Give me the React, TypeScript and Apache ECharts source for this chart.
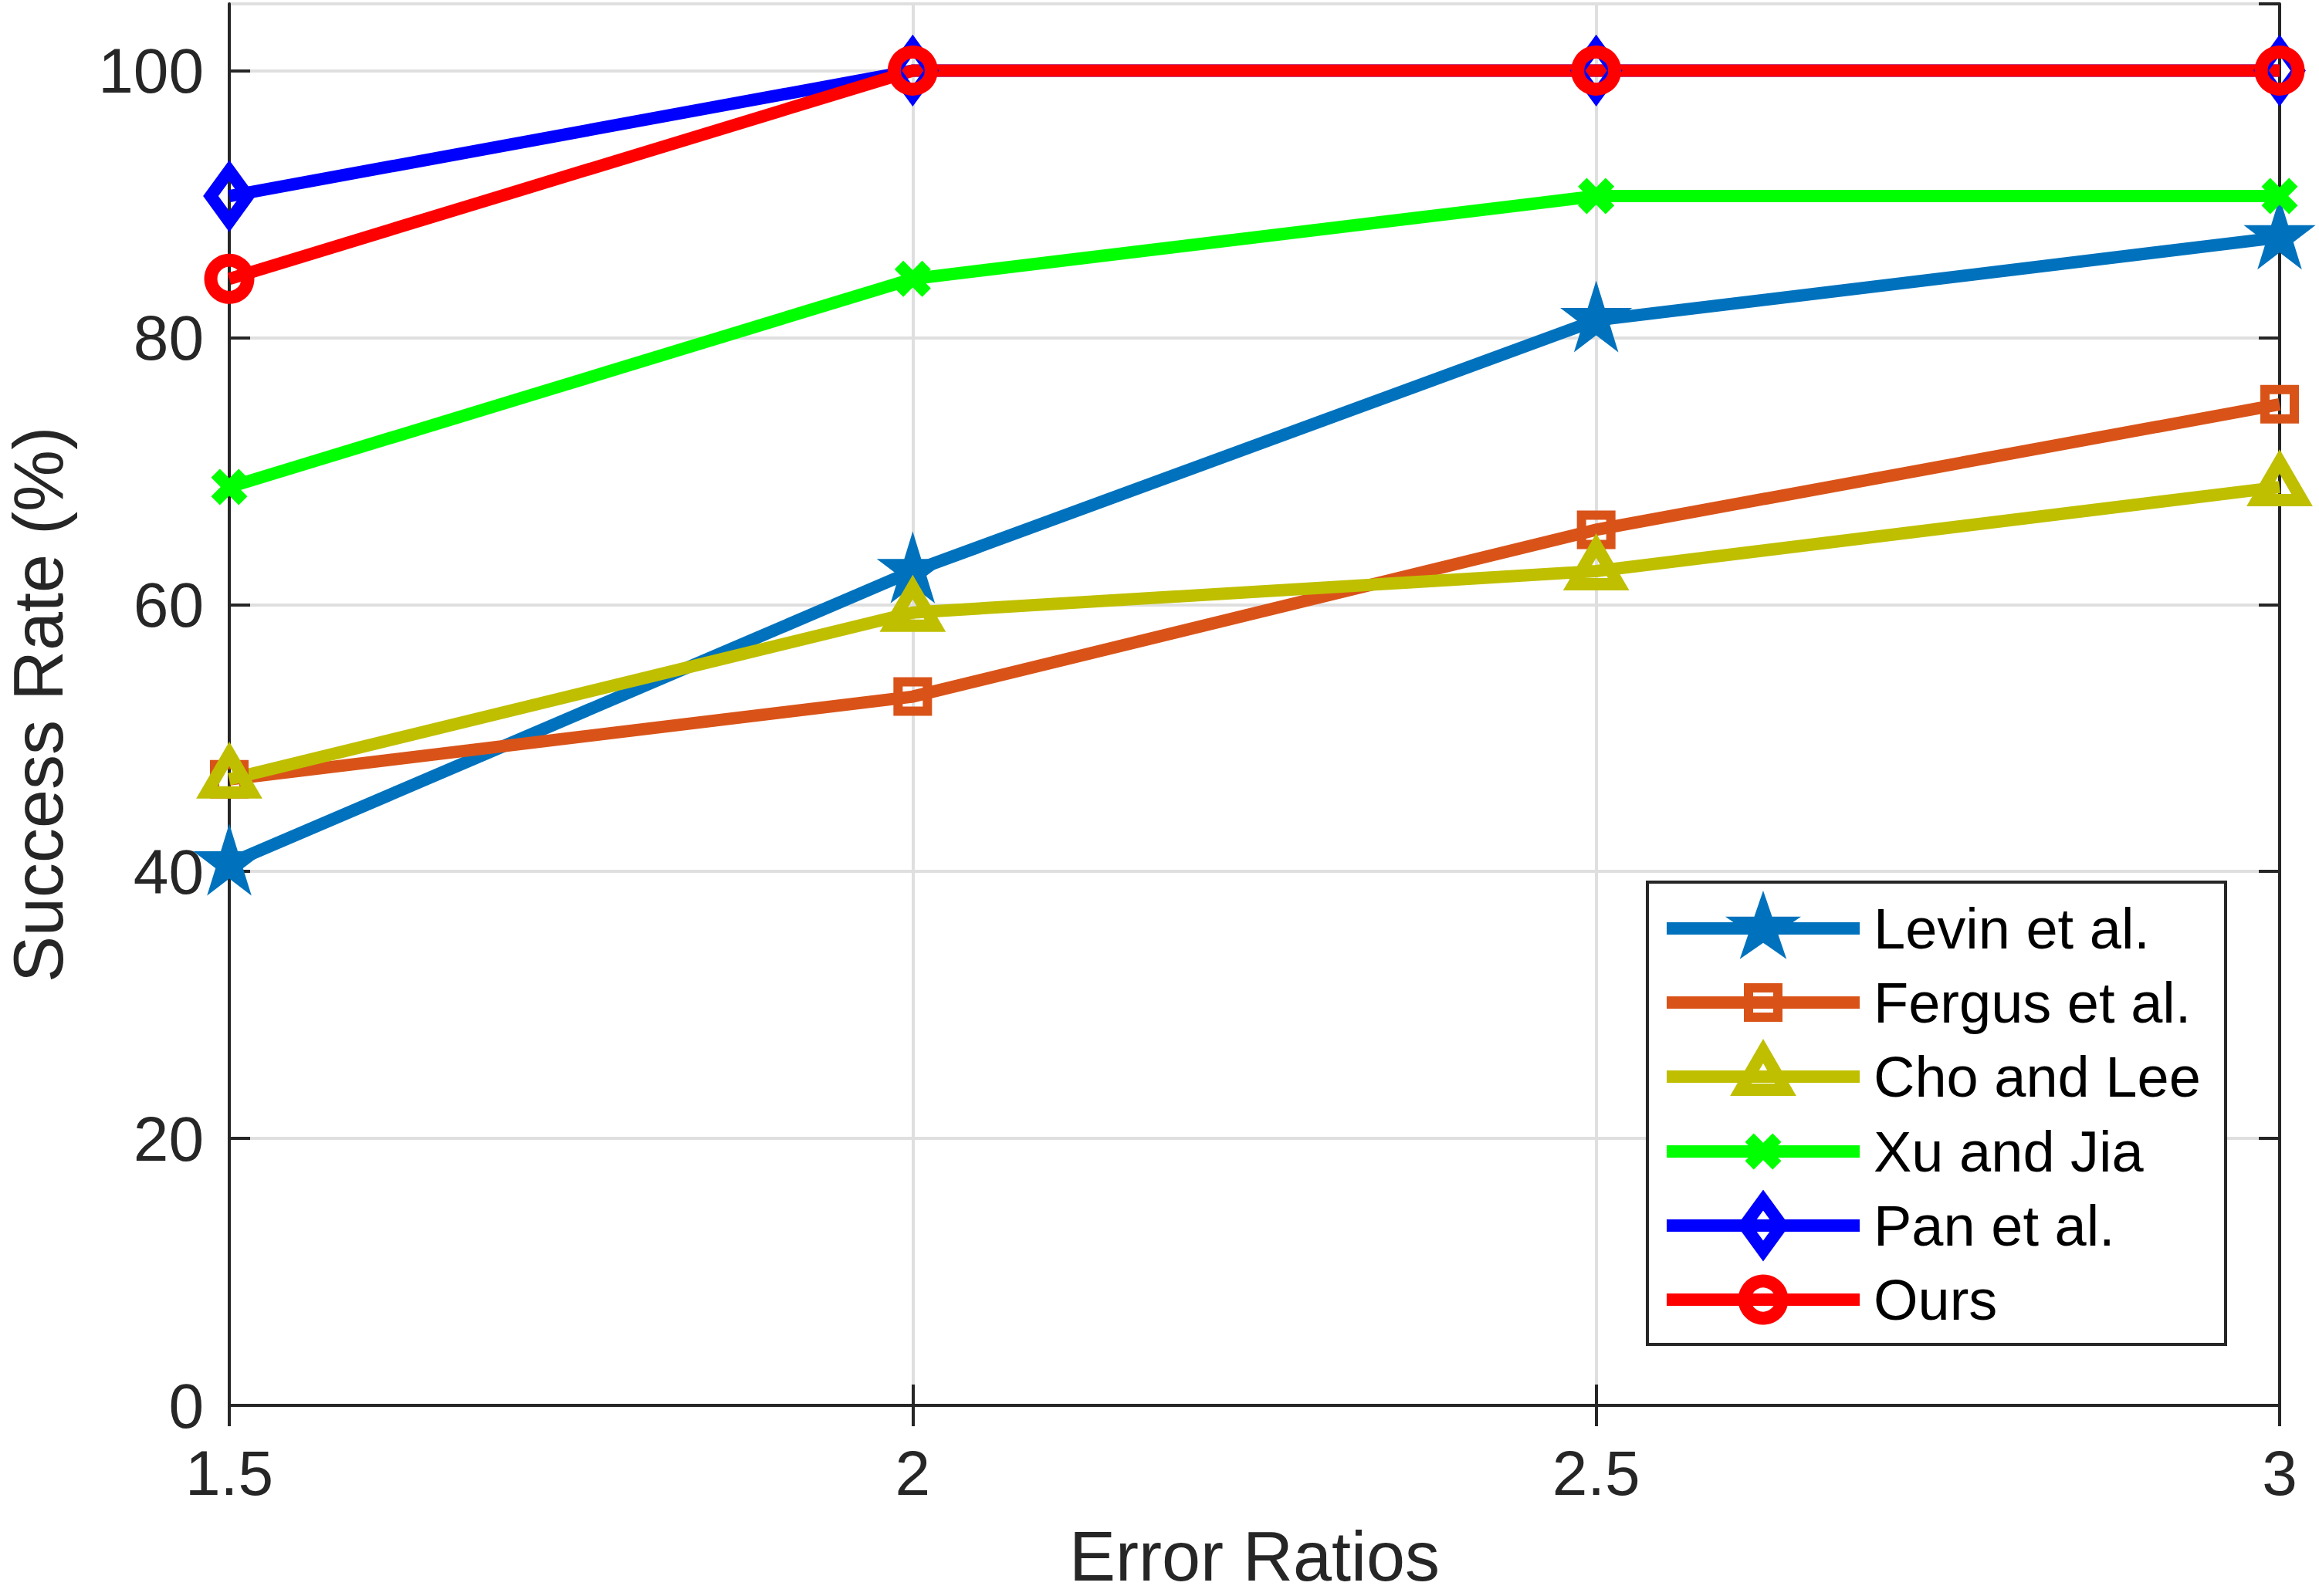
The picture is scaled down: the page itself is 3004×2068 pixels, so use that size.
import React, { useEffect, useRef } from 'react';
import * as echarts from 'echarts';

// ---- data ----
const errorRatios = [1.5, 2, 2.5, 3];
const levinValues = [40.6, 62.5, 81.3, 87.5];
const fergusValues = [46.9, 53.1, 65.6, 75.0];
const choLeeValues = [46.9, 59.4, 62.5, 68.8];
const xuJiaValues = [68.8, 84.4, 90.6, 90.6];
const panValues = [90.6, 100, 100, 100];
const oursValues = [84.4, 100, 100, 100];
const seriesNames = ['Levin et al.', 'Fergus et al.', 'Cho and Lee', 'Xu and Jia', 'Pan et al.', 'Ours'];
const yTickLabels = [0, 20, 40, 60, 80, 100];
const xAxisTitle = 'Error Ratios';
const yAxisTitle = 'Success Rate (%)';

// ---- marker shapes ----
const STAR = 'path://M1,0 L1.2245,0.691 L1.951,0.691 L1.363,1.118 L1.588,1.809 L1,1.382 L0.412,1.809 L0.637,1.118 L0.049,0.691 L0.7755,0.691 Z M1,2';
const XMARK = 'path://M0,24 L24,0 L50,26 L76,0 L100,24 L74,50 L100,76 L76,100 L50,74 L24,100 L0,76 L26,50 Z';
const DIAMOND = 'path://M0,0 M72,72 M36,3 L60,36 L36,69 L12,36 Z';
const TRIANGLE = 'path://M0,0 M72,72 M36,3 L65,53 L7,53 Z';

const FONT = 'Liberation Sans';
const AXIS_COLOR = '#262626';
const LINE_W = 16;

const styles = [
  { color: '#0072BD', symbol: STAR, size: [98, 103], fill: true, border: 0, legendH: 122.5, legendTop: 1154 },
  { color: '#D95319', symbol: 'rect', size: 38, fill: false, border: 12, legendH: 47.5, legendTop: 1262 },
  { color: '#BFBF00', symbol: TRIANGLE, size: 72, fill: false, border: 16, legendH: 90, legendTop: 1351 },
  { color: '#00FF00', symbol: XMARK, size: 47, fill: true, border: 0, legendH: 58.75, legendTop: 1455 },
  { color: '#0000FF', symbol: DIAMOND, size: 72, fill: false, border: 16, legendH: 90, legendTop: 1544 },
  { color: '#FF0000', symbol: 'circle', size: 48, fill: false, border: 17, legendH: 60, legendTop: 1647 },
];

const allValues = [levinValues, fergusValues, choLeeValues, xuJiaValues, panValues, oursValues];

export default function App() {
  const ref = useRef<HTMLDivElement>(null);
  useEffect(() => {
    if (!ref.current) return;
    const chart = echarts.init(ref.current, undefined, { renderer: 'svg' });

    const series = seriesNames.map((name, i) => {
      const s = styles[i];
      return {
        name,
        type: 'line',
        data: errorRatios.map((x, j) => [x, allValues[i][j]]),
        symbol: s.symbol,
        symbolSize: s.size,
        symbolKeepAspect: true,
        showAllSymbol: true,
        clip: false,
        silent: true,
        lineStyle: { color: s.color, width: LINE_W, cap: 'butt', join: 'miter' },
        itemStyle: {
          color: s.fill ? s.color : 'rgba(0,0,0,0)',
          borderColor: s.color,
          borderWidth: s.border,
        },
        emphasis: { disabled: true },
        z: 2,
      };
    });

    const legends = seriesNames.map((name, i) => {
      const s = styles[i];
      return {
        data: [name],
        left: 2151,
        top: s.legendTop,
        orient: 'vertical',
        padding: 0,
        itemWidth: 250,
        itemHeight: s.legendH,
        selectedMode: false,
        z: 5,
        textStyle: { fontFamily: FONT, fontSize: 74, color: '#000', padding: [0, 0, 0, 13] },
        lineStyle: { color: s.color, width: LINE_W, cap: 'butt' },
        itemStyle: {
          color: s.fill ? s.color : 'rgba(0,0,0,0)',
          borderColor: s.color,
          borderWidth: s.border,
        },
      };
    });

    const axisLine = { show: true, lineStyle: { color: AXIS_COLOR, width: 4 } };
    const axisTick = { show: true, inside: true, length: 27, lineStyle: { color: AXIS_COLOR, width: 4 } };
    const splitLine = { show: true, lineStyle: { color: '#DFDFDF', width: 4 } };

    chart.setOption({
      animation: false,
      backgroundColor: '#ffffff',
      grid: { left: 297, right: 51, top: 5, bottom: 247, containLabel: false, outerBoundsMode: 'none' },
      xAxis: [
        {
          type: 'value', min: 1.5, max: 3, interval: 0.5, position: 'bottom',
          axisLine, axisTick, splitLine,
          axisLabel: { show: true, margin: 46, fontFamily: FONT, fontSize: 82, color: AXIS_COLOR },
          name: xAxisTitle, nameLocation: 'middle', nameGap: 196, nameMoveOverlap: false,
          nameTextStyle: { fontFamily: FONT, fontSize: 90, lineHeight: 80, color: AXIS_COLOR, verticalAlign: 'middle' },
        },
        {
          type: 'value', min: 1.5, max: 3, interval: 0.5, position: 'top',
          axisLine, axisTick, splitLine: { show: false }, axisLabel: { show: false },
        },
      ],
      yAxis: [
        {
          type: 'value', min: 0, max: 105, interval: 20, position: 'left',
          axisLine, axisTick, splitLine,
          axisLabel: {
            show: true, margin: 33, fontFamily: FONT, fontSize: 82, color: AXIS_COLOR,
            showMaxLabel: false,
            formatter: (v: number) => (yTickLabels.indexOf(v) >= 0 ? String(v) : ''),
          },
          name: yAxisTitle, nameLocation: 'middle', nameGap: 247, nameRotate: 90, nameMoveOverlap: false,
          nameTextStyle: { fontFamily: FONT, fontSize: 90, color: AXIS_COLOR, verticalAlign: 'middle', align: 'center' },
        },
        {
          type: 'value', min: 0, max: 105, interval: 20, position: 'right',
          axisLine, axisTick, splitLine: { show: false }, axisLabel: { show: false },
        },
      ],
      legend: legends,
      graphic: [
        {
          type: 'rect',
          z: 3,
          silent: true,
          shape: { x: 2134, y: 1143, width: 749, height: 599 },
          style: { fill: '#ffffff', stroke: AXIS_COLOR, lineWidth: 4 },
        },
      ],
      series,
    });

    return () => chart.dispose();
  }, []);

  return (
    <div
      ref={ref}
      style={{ position: 'fixed', left: 0, top: 0, width: 3004, height: 2068, background: '#fff' }}
    />
  );
}
